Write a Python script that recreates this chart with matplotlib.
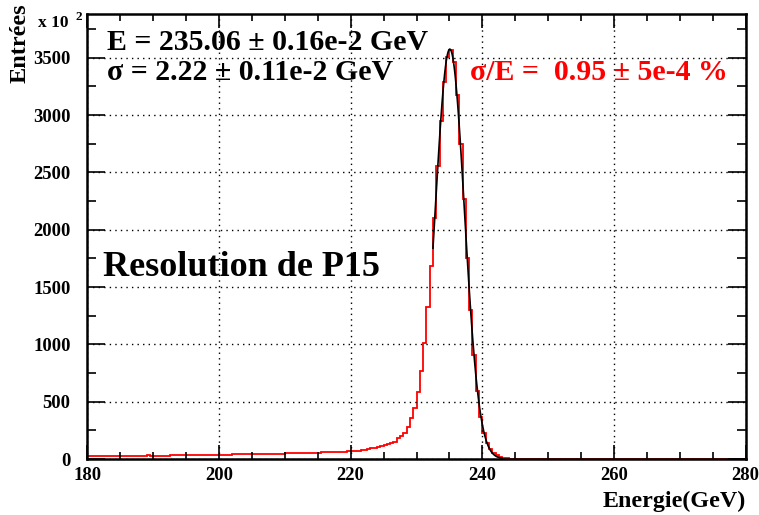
import numpy as np
import matplotlib
matplotlib.use("Agg")
import matplotlib.pyplot as plt
from matplotlib.ticker import MultipleLocator

# ---- data ----
x_start = 180.0
bin_width = 0.5
counts = (
    # 180-190
    [24, 25, 29, 27, 26, 25, 26, 26, 26, 27, 27, 27, 28, 27, 28, 28, 27, 28, 31, 30]
    # 190-200
    + [29, 29, 30, 30, 30, 31, 31, 31, 32, 32, 33, 33, 32, 33, 34, 34, 35, 35, 36, 36]
    # 200-210
    + [38, 38, 39, 39, 40, 40, 41, 41, 42, 42, 43, 43, 44, 44, 45, 45, 46, 46, 47, 47]
    # 210-220
    + [48, 48, 49, 50, 51, 52, 52, 53, 54, 55, 56, 57, 58, 59, 60, 61, 62, 63, 65, 66]
    # 220-226.5
    + [68, 71, 74, 77, 81, 86, 92, 98, 105, 113, 121, 130, 140]
    # 226.5-243
    + [151, 180, 200, 230, 282, 355, 448, 587, 771, 1009, 1323, 1684, 2106, 2551,
       2952, 3287, 3510, 3569, 3461, 3176, 2749, 2266, 1757, 1300, 907, 596, 369,
       224, 137, 85, 55, 35, 20]
    # 243-280
    + [12, 7, 4, 2, 1, 1] + [0] * 68
)

fit_mean = 235.06
fit_sigma = 2.22
fit_amp = 3575
fit_range = (232.5, 243.0)

x_limits = (180, 280)
y_limits = (0, 3881)

# ---- figure ----
W, H = 759, 515
fig = plt.figure(figsize=(W / 100, H / 100), dpi=100)
L, R, T, B = 87.3, 745.7, 14, 459
ax = fig.add_axes([L / W, 1 - B / H, (R - L) / W, (B - T) / H])

font = "Liberation Serif"

edges = x_start + bin_width * np.arange(len(counts) + 1)
ax.stairs(counts, edges, color="#ff0000", lw=1.3, baseline=None)

xf = np.linspace(fit_range[0], fit_range[1], 100)
yf = fit_amp * np.exp(-0.5 * ((xf - fit_mean) / fit_sigma) ** 2)
ax.plot(xf, yf, color="black", lw=1.2)

ax.set_xlim(*x_limits)
ax.set_ylim(*y_limits)

ax.xaxis.set_major_locator(MultipleLocator(20))
ax.xaxis.set_minor_locator(MultipleLocator(5))
ax.yaxis.set_major_locator(MultipleLocator(500))
ax.yaxis.set_minor_locator(MultipleLocator(250))

ax.tick_params(axis="both", which="both", direction="in", top=True, right=True)
ax.tick_params(axis="y", which="major", length=13, width=1.2, pad=12)
ax.tick_params(axis="y", which="minor", length=6.5, width=1.2)
ax.tick_params(axis="x", which="major", length=10, width=1.2, pad=5.5)
ax.tick_params(axis="x", which="minor", length=5, width=1.2)

for lab in ax.get_xticklabels() + ax.get_yticklabels():
    lab.set_fontfamily(font)
    lab.set_fontweight("bold")
    lab.set_fontsize(13.4)

for s in ax.spines.values():
    s.set_linewidth(1.8)

ax.grid(True, which="major", color="black", linestyle=(0, (1, 3)), lw=1.0)

def ftxt(x, y, s, **kw):
    fig.text(x / W, 1 - y / H, s, fontfamily=font, fontweight="bold", **kw)

ftxt(745.7, 507, "Energie(GeV)", fontsize=17.3, ha="right", va="baseline")
ftxt(20, 3, "Entrées", fontsize=17.5, rotation=90, ha="center", va="top")
ftxt(38, 27, "x 10", fontsize=12.5, ha="left", va="baseline")
ftxt(75, 20, "2", fontsize=9.5, ha="left", va="baseline")

ftxt(107, 50, "E = 235.06 \u00b1 0.16e-2 GeV", fontsize=21.5, ha="left", va="baseline")
ftxt(107, 80, "\u03c3 = 2.22 \u00b1 0.11e-2 GeV", fontsize=21.5, ha="left", va="baseline")
ftxt(470, 80, "\u03c3/E =  0.95 \u00b1 5e-4 %", fontsize=21.5, ha="left", va="baseline",
     color="#ff0000")
ftxt(103, 276, "Resolution de P15", fontsize=26, ha="left", va="baseline")

fig.savefig("out.png", dpi=100)
